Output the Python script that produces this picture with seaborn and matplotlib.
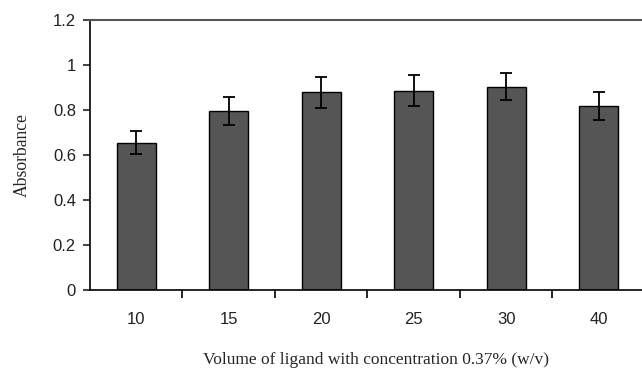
import matplotlib
matplotlib.use("Agg")
import matplotlib.pyplot as plt
import seaborn as sns
import numpy as np
import pandas as pd

volumes = ["10", "15", "20", "25", "30", "40"]
absorbance = [0.655, 0.795, 0.879, 0.886, 0.904, 0.818]
errors = [0.052, 0.062, 0.07, 0.07, 0.061, 0.062]

sns.set_style("white")
plt.rcParams['font.family'] = ['Liberation Sans', 'DejaVu Sans']

df = pd.DataFrame({"Volume": volumes, "Absorbance": absorbance})

fig = plt.figure(figsize=(6.42, 3.71), dpi=100)
ax = fig.add_axes([0.140, 0.218, 0.8645, 0.728])

sns.barplot(data=df, x="Volume", y="Absorbance", color="#555555",
            edgecolor="black", linewidth=1.0, width=0.42, errorbar=None,
            saturation=1, ax=ax)
ax.errorbar(np.arange(len(volumes)), absorbance, yerr=errors, fmt="none",
            ecolor="black", elinewidth=1.3, capsize=4, capthick=1.3)

ax.set_xlim(-0.5, len(volumes) - 0.5)
ax.set_ylim(0, 1.2)
ax.set_yticks([0, 0.2, 0.4, 0.6, 0.8, 1.0, 1.2])
ax.set_yticklabels(["0", "0.2", "0.4", "0.6", "0.8", "1", "1.2"])

# category boundary ticks on x
ax.set_xticks(np.arange(len(volumes)))
ax.set_xticklabels(volumes)
ax.tick_params(axis="x", which="major", length=0, pad=16, labelsize=12, colors="#222222")
ax.set_xticks(np.arange(len(volumes)) + 0.5, minor=True)
ax.tick_params(axis="x", which="minor", length=6, width=1.2, direction="out", color="black", bottom=True)
ax.tick_params(axis="y", length=5, width=1.2, direction="out", left=True, labelsize=12, colors="#222222", pad=5)

for s in ["left", "bottom"]:
    ax.spines[s].set_color("black")
    ax.spines[s].set_linewidth(1.2)
ax.spines["top"].set_color("#555555")
ax.spines["top"].set_linewidth(1.5)
ax.spines["right"].set_visible(False)

ax.set_xlabel("Volume of ligand with concentration 0.37% (w/v)",
              family=["Liberation Serif", "DejaVu Serif"], fontsize=12.5, labelpad=16)
ax.xaxis.set_label_coords(0.515, -0.228)
ax.xaxis.label.set_va("top")
ax.set_ylabel("Absorbance", family=["Liberation Serif", "DejaVu Serif"], fontsize=12.7, labelpad=16)

fig.savefig("out.png", dpi=100)
